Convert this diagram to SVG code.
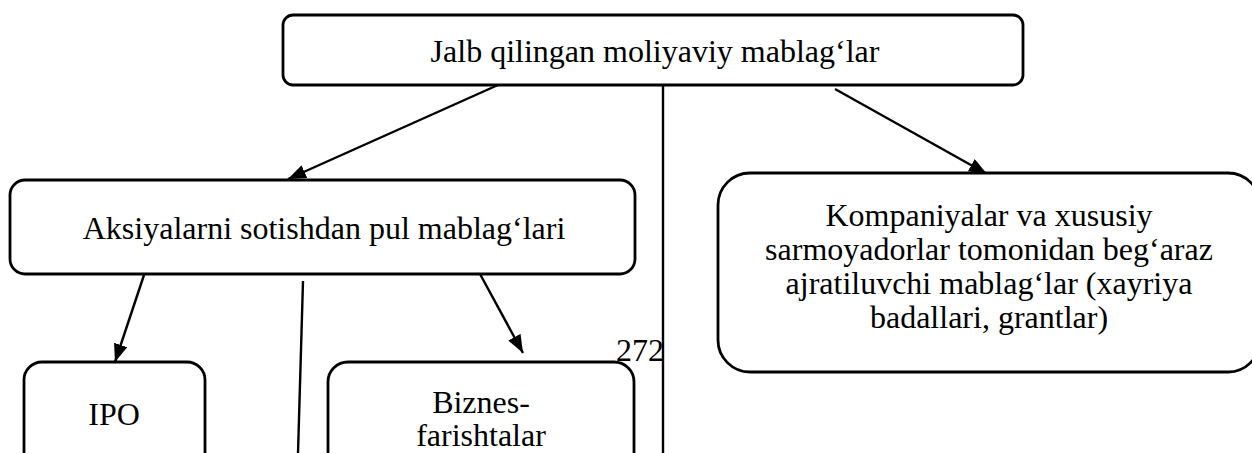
<svg xmlns="http://www.w3.org/2000/svg" width="1252" height="453" viewBox="0 0 1252 453">
  <style>
    .box { fill: #ffffff; stroke: #000000; stroke-width: 2.8; }
    .lbl { font-family: "Liberation Serif", "Times New Roman", Tinos, "DejaVu Serif", serif; font-size: 32px; fill: #000000; text-anchor: middle; }
    .edge { fill: none; stroke: #000000; stroke-width: 2.4; }
  </style>
  <defs>
    <marker id="arrow" viewBox="0 0 18 14" refX="18" refY="7" markerWidth="18" markerHeight="14" markerUnits="userSpaceOnUse" orient="auto">
      <path d="M0,0 L18,7 L0,14 Z" fill="#000000"/>
    </marker>
  </defs>
  <rect width="1252" height="453" fill="#ffffff"/>

  <!-- connectors between the boxes -->
  <g id="connectors">
    <line class="edge" x1="498" y1="85" x2="288" y2="179" marker-end="url(#arrow)"/>
    <line class="edge" x1="663" y1="85" x2="663" y2="453"/>
    <line class="edge" x1="835" y1="89" x2="987" y2="174" marker-end="url(#arrow)"/>
    <line class="edge" x1="144" y1="275" x2="115" y2="362" marker-end="url(#arrow)"/>
    <line class="edge" x1="303" y1="281" x2="298" y2="453"/>
    <line class="edge" x1="480" y1="274" x2="523" y2="353" marker-end="url(#arrow)"/>
  </g>

  <g id="node-top">
    <rect class="box" x="283" y="15" width="740" height="70" rx="10"/>
    <text class="lbl" x="655" y="62">Jalb qilingan moliyaviy mablag‘lar</text>
  </g>

  <g id="node-shares">
    <rect class="box" x="10" y="180" width="625" height="94" rx="15"/>
    <text class="lbl" x="324" y="239">Aksiyalarni sotishdan pul mablag‘lari</text>
  </g>

  <g id="node-grants">
    <rect class="box" x="718" y="173" width="542" height="199" rx="32"/>
    <text class="lbl" x="989" y="226">Kompaniyalar va xususiy</text>
    <text class="lbl" x="989" y="260">sarmoyadorlar tomonidan beg‘araz</text>
    <text class="lbl" x="989" y="294">ajratiluvchi mablag‘lar (xayriya</text>
    <text class="lbl" x="989" y="328">badallari, grantlar)</text>
  </g>

  <g id="node-ipo">
    <rect class="box" x="24" y="362" width="181" height="130" rx="18"/>
    <text class="lbl" x="114" y="425">IPO</text>
  </g>

  <g id="node-angels">
    <rect class="box" x="328" y="362" width="306" height="130" rx="20"/>
    <text class="lbl" x="481" y="413">Biznes-</text>
    <text class="lbl" x="481" y="446">farishtalar</text>
  </g>

  <!-- page number printed over the layout -->
  <g id="page-number">
    <text class="lbl" x="640" y="361">272</text>
  </g>
</svg>
